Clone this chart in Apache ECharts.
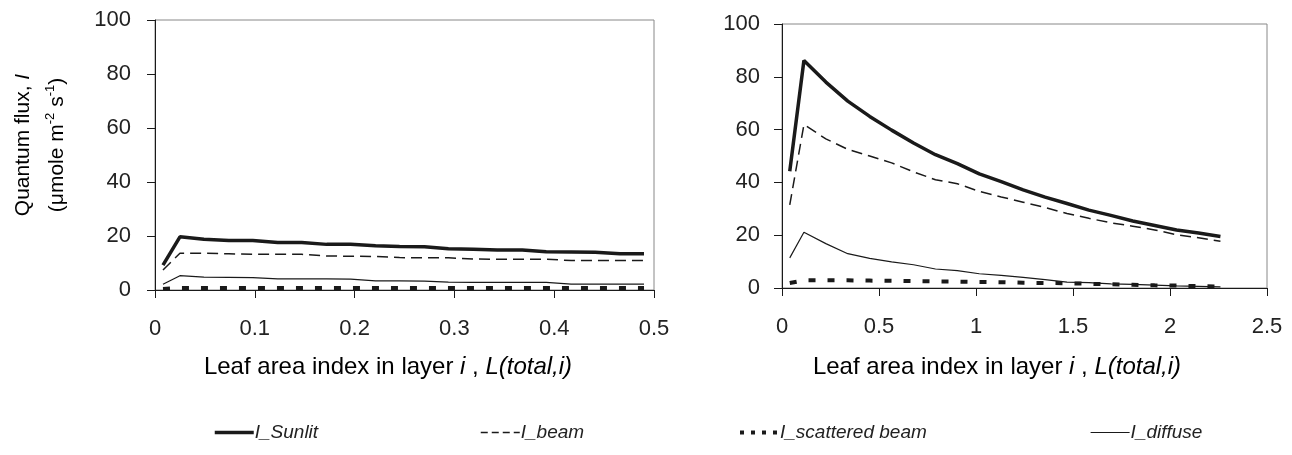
<!DOCTYPE html>
<html lang="en">
<head>
    <meta charset="UTF-8">
    <title>Quantum flux vs leaf area index</title>
    <script type="text/javascript" src="https://cdn.jsdelivr.net/npm/echarts@6/dist/echarts.min.js"></script>
    <style>
        html, body { margin: 0; padding: 0; background: #fff; }
        #main { width: 1292px; height: 455px; }
    </style>
</head>
<body>
    <div id="main"></div>
    <script type="text/javascript">
        // left panel: leaf area index per layer
        var leftX = [0.008, 0.025, 0.049, 0.074, 0.098, 0.123, 0.147, 0.172, 0.196, 0.221, 0.245,
            0.270, 0.294, 0.319, 0.343, 0.368, 0.392, 0.417, 0.441, 0.466, 0.490];
        var leftSunlit = [9.2, 19.7, 18.8, 18.3, 18.3, 17.6, 17.6, 16.9, 16.9, 16.4, 16.1,
            16.0, 15.3, 15.1, 14.8, 14.8, 14.2, 14.1, 14.0, 13.4, 13.4];
        var leftBeam = [7.4, 13.6, 13.6, 13.4, 13.2, 13.2, 13.2, 12.6, 12.5, 12.4, 12.0,
            11.9, 11.9, 11.5, 11.4, 11.4, 11.4, 10.9, 10.9, 10.9, 10.9];
        var leftScattered = [0.4, 0.7, 0.7, 0.7, 0.7, 0.7, 0.7, 0.7, 0.7, 0.7, 0.7,
            0.7, 0.7, 0.7, 0.7, 0.7, 0.7, 0.7, 0.7, 0.7, 0.7];
        var leftDiffuse = [2.1, 5.3, 4.8, 4.7, 4.6, 4.1, 4.1, 4.1, 4.0, 3.4, 3.4,
            3.3, 2.9, 2.8, 2.8, 2.8, 2.8, 2.2, 2.2, 2.2, 2.2];

        // right panel
        var rightX = [0.040, 0.113, 0.226, 0.339, 0.452, 0.565, 0.678, 0.791, 0.904, 1.017, 1.130,
            1.243, 1.356, 1.469, 1.582, 1.695, 1.808, 1.921, 2.034, 2.147, 2.260];
        var rightSunlit = [44.2, 86.2, 78.0, 70.8, 65.0, 59.8, 54.9, 50.5, 47.1, 43.2, 40.3,
            37.2, 34.4, 32.0, 29.5, 27.5, 25.4, 23.7, 22.0, 20.8, 19.5];
        var rightBeam = [31.5, 61.9, 56.5, 52.5, 50.0, 47.4, 44.0, 41.0, 39.5, 36.6, 34.5,
            32.5, 30.5, 28.2, 26.4, 24.7, 23.4, 22.0, 20.2, 19.0, 17.7];
        var rightScattered = [1.9, 2.9, 2.9, 2.9, 2.8, 2.7, 2.6, 2.5, 2.4, 2.3, 2.2,
            2.0, 1.9, 1.8, 1.6, 1.4, 1.2, 1.0, 0.9, 0.7, 0.5];
        var rightDiffuse = [11.4, 21.1, 16.8, 13.0, 11.2, 9.9, 8.8, 7.2, 6.6, 5.4, 4.8,
            4.0, 3.2, 2.2, 2.0, 1.6, 1.4, 1.1, 0.8, 0.6, 0.4];

        var seriesNames = ['I_Sunlit', 'I_beam', 'I_scattered beam', 'I_diffuse'];
        var yTicks = [0, 20, 40, 60, 80, 100];

        var FONT = '"Liberation Sans", Arial, sans-serif';
        var INK = '#1a1a1a';

        function pairs(xs, ys) {
            var out = [];
            for (var i = 0; i < xs.length; i++) {
                out.push([xs[i], ys[i]]);
            }
            return out;
        }

        // line looks, same order as seriesNames
        var looks = [
            { width: 3.5, type: 'solid' },
            { width: 1.5, type: [11, 6] },
            { width: 4, type: [7, 12] },
            { width: 1.2, type: 'solid' }
        ];
        // the legend samples are short, so their dashes are a bit tighter
        var legendLooks = [
            { width: 3.5, type: 'solid' },
            { width: 1.5, type: [7, 4] },
            { width: 4, type: [4, 7] },
            { width: 1.2, type: 'solid' }
        ];

        function makeSeries(name, idx, data, look) {
            return {
                name: name,
                type: 'line',
                xAxisIndex: idx,
                yAxisIndex: idx,
                data: data,
                symbol: 'none',
                animation: false,
                lineStyle: { color: INK, width: look.width, type: look.type, cap: 'butt' },
                itemStyle: { color: INK }
            };
        }

        function xAxisOf(idx, max, interval) {
            return {
                type: 'value',
                gridIndex: idx,
                min: 0,
                max: max,
                interval: interval,
                axisLine: { show: true, lineStyle: { color: INK, width: 1 } },
                axisTick: { show: true, inside: false, length: 8, lineStyle: { color: INK } },
                axisLabel: { color: '#222', fontFamily: FONT, fontSize: 22, margin: 28 },
                splitLine: { show: false }
            };
        }

        function yAxisOf(idx, margin) {
            return {
                type: 'value',
                gridIndex: idx,
                min: yTicks[0],
                max: yTicks[yTicks.length - 1],
                interval: 20,
                axisLine: { show: true, lineStyle: { color: INK, width: 1 } },
                axisTick: { show: true, inside: false, length: 8, lineStyle: { color: INK } },
                axisLabel: { color: '#222', fontFamily: FONT, fontSize: 22, margin: margin },
                splitLine: { show: false }
            };
        }

        var leftData = [leftSunlit, leftBeam, leftScattered, leftDiffuse];
        var rightData = [rightSunlit, rightBeam, rightScattered, rightDiffuse];
        var series = [];
        for (var k = 0; k < seriesNames.length; k++) {
            series.push(makeSeries(seriesNames[k], 0, pairs(leftX, leftData[k]), looks[k]));
        }
        for (var k2 = 0; k2 < seriesNames.length; k2++) {
            series.push(makeSeries(seriesNames[k2], 1, pairs(rightX, rightData[k2]), looks[k2]));
        }

        // one legend box per entry so they sit where the original puts them
        var legendLeft = [213, 480, 738, 1090];
        var legends = seriesNames.map(function (n, i) {
            return {
                data: [n],
                left: legendLeft[i],
                top: 423,
                padding: 0,
                itemWidth: 39,
                itemHeight: 20,
                itemGap: 0,
                selectedMode: false,
                itemStyle: { opacity: 0 },
                lineStyle: { color: INK, width: legendLooks[i].width, type: legendLooks[i].type, cap: 'butt' },
                textStyle: { fontFamily: FONT, fontSize: 19, fontStyle: 'italic', color: '#222', padding: [0, 0, 0, -4] }
            };
        });

        var titleRich = {
            n: { fontFamily: FONT, fontSize: 24, color: '#222' },
            it: { fontFamily: FONT, fontSize: 24, color: '#222', fontStyle: 'italic' }
        };
        var xTitle = '{n|Leaf area index in layer }{it|i}{n| , }{it|L(total,i)}';

        var option = {
            backgroundColor: '#fff',
            animation: false,
            textStyle: { fontFamily: FONT },
            grid: [
                { left: 155, top: 20, width: 499, height: 270, show: true, borderColor: '#888', borderWidth: 1, backgroundColor: 'transparent' },
                { left: 782, top: 24, width: 485, height: 264, show: true, borderColor: '#888', borderWidth: 1, backgroundColor: 'transparent' }
            ],
            xAxis: [xAxisOf(0, 0.5, 0.1), xAxisOf(1, 2.5, 0.5)],
            yAxis: [yAxisOf(0, 24), yAxisOf(1, 22)],
            legend: legends,
            series: series,
            graphic: [
                {
                    type: 'text',
                    x: 40,
                    y: 145,
                    rotation: Math.PI / 2,
                    style: {
                        text: '{n|Quantum flux, }{it|I}\n{n|(\u03bcmole m}{s|-2}{n| s}{s|-1}{n|)}',
                        align: 'center',
                        verticalAlign: 'middle',
                        rich: {
                            n: { fontFamily: FONT, fontSize: 21, color: '#222', lineHeight: 34 },
                            it: { fontFamily: FONT, fontSize: 21, color: '#222', fontStyle: 'italic', lineHeight: 34 },
                            s: { fontFamily: FONT, fontSize: 13, color: '#222', lineHeight: 34, padding: [0, 0, 14, 0] }
                        }
                    }
                },
                {
                    type: 'text',
                    x: 388,
                    y: 367,
                    style: { text: xTitle, align: 'center', verticalAlign: 'middle', rich: titleRich }
                },
                {
                    type: 'text',
                    x: 997,
                    y: 367,
                    style: { text: xTitle, align: 'center', verticalAlign: 'middle', rich: titleRich }
                }
            ]
        };

        var myChart = echarts.init(document.getElementById('main'));
        myChart.setOption(option);
        window.addEventListener('resize', function () {
            myChart.resize();
        });
    </script>
</body>
</html>
